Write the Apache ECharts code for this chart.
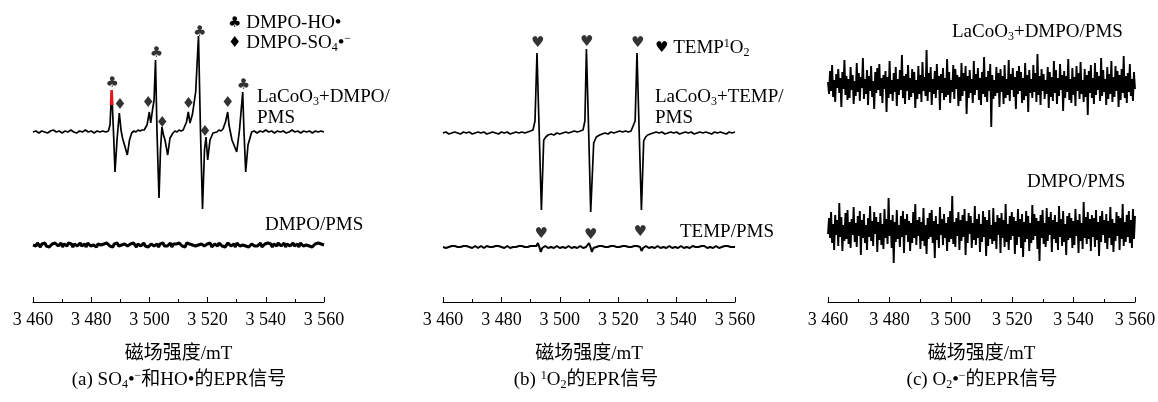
<!DOCTYPE html>
<html>
<head>
<meta charset="utf-8">
<script src="https://cdn.jsdelivr.net/npm/echarts@6/dist/echarts.min.js"></script>
<style>html,body{margin:0;padding:0;background:#fff}#chart{width:1158px;height:402px}</style>
</head>
<body>
<div id="chart"></div>
<script>
// 磁场扫描范围 (mT)
var FIELD_MIN = 3460, FIELD_MAX = 3560;
var fieldTicks = [3460, 3480, 3500, 3520, 3540, 3560];

// (a) LaCoO3+DMPO/PMS : [磁场, 强度]
var aTop = [[3460,0],[3461,1],[3462,-1],[3463,1],[3464,0],[3465,-1],[3466,1],[3467,2],[3468,0],[3469,1],[3470,-1],[3471,1],[3472,0],[3473,2],[3474,0],[3475,-1],[3476,1],[3477,0],[3478,2],[3479,0],[3480,1],[3481,-1],[3482,1],[3483,0],[3484,1],[3485,0],
  [3485.9,1],[3486.46,7],[3487.04,42],[3487.66,0],[3488.18,-40],[3488.87,-8],[3489.66,19],[3490.24,2],[3490.76,-6],[3491.27,-8],[3492.41,-23],[3493.16,-8],[3493.92,-1],
  [3494.7,1],[3495.4,0],[3496.1,2],[3496.8,1],[3497.5,2],[3498.2,2],[3498.7,3],
  [3499.18,7],[3499.97,20],[3500.45,9],[3501.07,22],[3501.6,32],[3502.1,72],[3502.61,0],[3503.3,-66],[3503.81,-18],[3504.3,5],[3504.85,-3],[3505.36,-8],[3506.29,-23],[3507.08,-6],[3508.11,-1],
  [3508.8,1],[3509.5,0],[3510.2,2],[3510.9,1],[3511.6,2],[3512.23,3],
  [3512.75,10],[3513.37,20],[3513.95,9],[3514.81,18],[3515.9,40],[3516.87,96],[3517.56,0],[3518.25,-77],[3518.93,-18],[3519.45,-5],[3520.03,-28],[3520.82,-8],[3521.86,-1],
  [3522.5,1],[3523.2,0],[3523.9,2],[3524.6,1],[3525.29,3],
  [3526.15,10],[3526.91,20],[3527.35,7],[3528.38,-8],[3530.0,-20],[3530.96,2],[3532.06,40],[3532.51,0],[3533.09,-40],[3533.88,-13],[3535.15,0],
  [3536,1],[3537,-1],[3538,1],[3539,0],[3540,2],[3541,0],[3542,1],[3543,-1],[3544,1],[3545,0],[3546,1],[3547,-1],[3548,0],[3549,2],[3550,0],[3551,1],[3552,-1],[3553,1],[3554,0],[3555,1],[3556,-1],[3557,1],[3558,0],[3559,1],[3560,0]];
var aHighlight = [[3486.79,27],[3487.04,42],[3487.26,27]];
// (a) DMPO/PMS，等间隔采样
var aBottom = [0,1,-1,2,0,-2,1,0,2,-1,1,-2,0,1,-1,2,1,-1,0,2,-2,1,0,-1,2,0,1,-2,1,0,-1,1,2,-1,0,1,-2,2,0,-1,1,0,2,-2,1,-1,0,2,1,-1,2,0,-1,1,-2,1,0,2,-1,1,0,-2,1,2,-1,0,1,-1,2,0,-2,1,1,-1,0,2,-1,1,-2,0,1,2,-1,0,1,-2,1,0,2,-1,1,-1,0,2,-2,1,0,1,-1,2,0,-1,1,-2,2,0,1,-1,0,2,-1,1,0,-2,1,2,-1,0,1,-1,2,-2,0,1,1,-1,2,0,-1,1,-2,0,2,1,-1,0,1,-2,2,0,-1,1,0,2,-1,1,-2,0,1,2,-1,0,-1,1,2,-2,0,1,-1,2,0,1,-2,1,0,-1,2,1,-1,0,2,-2,1,0,-1,1,2,-1,0,1,-2,2,0,-1,1,0,2,-1,1,-2,0,1,-1,2,0,1,-1,0];
var aClubs = [[3487.2,49],[3502.4,79],[3517.3,100],[3532.3,47]];
var aDiamonds = [[3489.9,27],[3499.6,29],[3504.4,9],[3513.4,28],[3519.1,0],[3526.9,29]];

// (b) LaCoO3+TEMP/PMS
var bTop = [[3460,0],[3461,1],[3462,-1],[3463,0],[3464,1],[3465,0],[3466,-1],[3467,1],[3468,0],[3469,1],[3470,-1],[3471,0],[3472,1],[3473,0],[3474,1],[3475,-1],[3476,0],[3477,1],[3478,0],[3479,-1],[3480,1],[3481,0],[3482,1],[3483,-1],[3484,0],[3485,1],[3486,0],[3487,1],[3488,0],[3489,1],[3490,2],
  [3490.82,3],[3491.5,12],[3492.19,80],[3492.95,0],[3493.7,-77],[3494.49,-7],[3495.2,-4],[3495.96,-2],
  [3497,-1],[3498,-2],[3499,0],[3500,-1],[3501,0],[3502,1],[3503,0],[3504,1],[3505,2],[3506,1],[3507,2],[3507.95,3],
  [3508.6,12],[3509.11,84],[3509.9,0],[3510.58,-79],[3511.61,-10],[3512.5,-4],[3513.66,-2],
  [3514.5,-1],[3515.5,0],[3516.5,-1],[3517.5,1],[3518.5,0],[3519.5,1],[3520.5,2],[3521.5,1],[3522.5,2],[3523.5,1],[3524.4,2],[3525.07,3],
  [3525.8,12],[3526.44,80],[3527.19,0],[3527.95,-77],[3528.73,-8],[3529.4,-4],[3530.1,-2],
  [3531,-1],[3532,0],[3533,1],[3534,0],[3535,1],[3536,-1],[3537,0],[3538,1],[3539,0],[3540,1],[3541,-1],[3542,0],[3543,1],[3544,0],[3545,1],[3546,-1],[3547,0],[3548,1],[3549,0],[3550,1],[3551,0],[3552,-1],[3553,1],[3554,0],[3555,1],[3556,0],[3557,-1],[3558,1],[3559,0],[3560,1]];
// (b) TEMP/PMS，等间隔采样
var bBottom = [0,1,-1,1,0,-1,1,0,1,-1,
  0,1,0,-1,1,0,1,-1,0,1,
  -1,0,1,0,-1,1,1,0,-1,0,
  1,-1,0,1,0,-1,1,0,1,-1,
  0,1,-1,0,1,0,-1,1,0,1,
  0,-1,1,0,1,-1,0,1,0,-1,
  1,0,1,-1,1,4,0,-5,-1,0,
  1,0,-1,1,0,1,-1,0,1,0,
  -1,1,0,1,-1,0,1,0,-1,1,
  0,1,-1,0,1,0,-1,1,0,1,
  4,0,-5,-1,1,0,-1,1,0,1,
  -1,0,1,0,-1,1,0,1,-1,0,
  1,0,-1,1,0,1,-1,0,1,0,
  -1,1,0,1,3,0,-4,-1,0,1,
  0,-1,1,0,1,-1,0,1,0,-1,
  1,0,1,-1,0,1,0,-1,1,0,
  1,-1,0,1,0,-1,1,0,1,-1,
  0,1,-1,0,1,0,-1,1,0,1,
  0,-1,1,0,1,-1,0,1,0,-1,
  1,0,-1,1,0,1,-1,0,1,0,
  0];
var bHeartsTop = [[3492.4,90],[3509.2,91],[3526.7,90]];
var bHeartsBottom = [[3493.6,13],[3510.6,12],[3527.5,15]];

// (c) 等间隔采样
var cTop = [3,-9,14,-6,20,-12,5,-17,11,-3,
  16,-8,7,-22,13,-4,25,-10,9,-15,
  6,-13,18,-5,10,-19,4,-11,22,-7,
  12,-16,8,-3,27,-14,6,-9,15,-20,
  9,-6,19,-12,4,-24,13,-8,17,-5,
  21,-11,7,-18,10,-4,14,-27,8,-13,
  24,-9,5,-16,12,-7,18,-21,6,-10,
  15,-5,30,-13,9,-19,11,-6,20,-15,
  7,-12,16,-8,13,-23,5,-14,19,-9,
  10,-17,23,-6,8,-11,35,-16,12,-7,
  18,-20,6,-9,14,-13,21,-5,9,-25,
  11,-8,17,-15,7,-12,26,-10,13,-18,
  5,-7,20,-14,16,-4,10,-21,8,-16,
  22,-11,12,-6,19,-29,9,-13,15,-8,
  6,-18,24,-10,11,-5,17,-15,7,-20,
  13,-9,28,-12,8,-17,14,-6,21,-42,
  10,-14,5,-11,18,-8,12,-22,16,-7,
  9,-19,20,-13,6,-10,25,-16,11,-5,
  17,-12,8,-24,14,-9,19,-6,13,-18,
  7,-15,22,-11,10,-27,15,-8,6,-13,
  20,-7,12,-17,31,-10,9,-20,16,-6,
  11,-14,5,-9,18,-23,13,-12,8,-16,
  24,-8,15,-19,7,-11,21,-5,10,-26,
  14,-13,9,-7,26,-15,6,-18,17,-10,
  8,-21,19,-6,12,-14,23,-9,5,-17,
  16,-12,10,-30,14,-8,20,-13,7,-19,
  22,-10,13,-5,9,-16,27,-11,15,-7,
  6,-20,18,-14,11,-9,24,-17,8,-12,
  19,-6,14,-22,10,-15,16,-8,29,-13,
  9,-18,12,-7,21,-11,6,-16,13,-4];
var cBottom = [-4,12,-8,18,-13,6,-20,15,-5,10,
  -16,27,-7,13,-21,5,-11,17,-9,20,
  -14,8,-18,11,-5,23,-12,7,-17,14,
  -6,19,-25,10,-8,16,-13,5,-20,12,
  -7,24,-11,9,-16,18,-4,13,-22,8,
  -10,17,-15,6,-19,21,-8,11,-14,32,
  -6,10,-18,15,-33,8,-12,20,-9,5,
  -17,14,-7,19,-23,11,-5,16,-12,9,
  -21,7,-13,18,-8,26,-15,10,-6,13,
  -19,8,-11,22,-16,5,-24,12,-9,17,
  -7,20,-13,9,-28,14,-10,6,-18,23,
  -5,11,-15,16,-8,7,-21,13,-12,19,
  -9,34,-14,8,-17,12,-6,18,-20,10,
  -11,15,-7,21,-25,9,-13,17,-4,14,
  -18,7,-10,24,-15,11,-8,16,-22,6,
  -12,19,-7,13,-26,10,-16,20,-9,5,
  -14,22,-11,8,-19,15,-5,12,-23,17,
  -8,10,-17,26,-12,6,-20,14,-10,18,
  -6,13,-24,9,-15,21,-7,11,-18,16,
  -27,8,-12,19,-9,14,-21,7,-13,25,
  -10,16,-6,12,-19,9,-31,15,-8,20,
  -14,7,-17,22,-11,13,-5,18,-22,10,
  -9,15,-13,8,-20,24,-7,11,-16,19,
  -12,6,-25,14,-10,17,-8,12,-18,9,
  -15,21,-6,10,-23,16,-11,7,-19,28,
  -8,13,-14,18,-9,11,-21,15,-7,12,
  -17,20,-10,8,-26,14,-12,19,-5,10,
  -13,16,-19,9,-8,23,-15,11,-22,7,
  -11,18,-6,14,-20,12,-9,26,-16,8,
  -12,15,-7,19,-13,10,-18,21,-9,14];

var SERIF = "'Liberation Serif', 'Noto Sans CJK SC'";
var chart = echarts.init(document.getElementById('chart'));

function shift(pairs, off) {
  return pairs.map(function (p) { return [p[0], p[1] + off]; });
}
function onGrid(vals, off) {
  var n = vals.length;
  return vals.map(function (v, i) {
    return [FIELD_MIN + i * (FIELD_MAX - FIELD_MIN) / (n - 1), v + off];
  });
}
function line(idx, data, width, color) {
  return {
    type: 'line', xAxisIndex: idx, yAxisIndex: idx, data: data,
    showSymbol: false, symbol: 'none', silent: true, animation: false,
    lineStyle: { color: color || '#000', width: width }, z: color ? 3 : 2
  };
}
function marks(idx, data, ch) {
  return {
    type: 'scatter', xAxisIndex: idx, yAxisIndex: idx, data: data,
    symbolSize: 1, silent: true, animation: false, z: 5,
    itemStyle: { color: 'rgba(0,0,0,0)' },
    label: { show: true, position: 'inside', formatter: ch, color: '#000',
      fontFamily: 'DejaVu Sans', fontSize: 15 }
  };
}
function xAx(idx) {
  return {
    type: 'value', gridIndex: idx, min: FIELD_MIN, max: FIELD_MAX, interval: 20,
    name: '磁场强度/mT', nameLocation: 'middle', nameGap: 43,
    nameTextStyle: { color: '#000', fontFamily: SERIF, fontSize: 19 },
    axisLine: { lineStyle: { color: '#000', width: 1 } },
    axisTick: { inside: true, length: 5, lineStyle: { color: '#000' } },
    minorTick: { show: true, splitNumber: 2, length: 3, lineStyle: { color: '#000' } },
    splitLine: { show: false },
    axisLabel: { color: '#000', fontFamily: SERIF, fontSize: 18, margin: 9,
      formatter: function (v) {
        return fieldTicks.indexOf(v) < 0 ? '' : String(v).replace(/(\d)(\d{3})$/, '$1 $2');
      } }
  };
}
function yAx(idx) {
  return { type: 'value', gridIndex: idx, min: 0, max: 292, show: false };
}

var rich = {
  s: { fontSize: 12, lineHeight: 4, verticalAlign: 'bottom', fontFamily: SERIF },
  u: { fontSize: 12, lineHeight: 9, verticalAlign: 'top', fontFamily: SERIF },
  m: { fontSize: 15, fontFamily: 'DejaVu Sans' }
};
function txt(x, y, text, align) {
  return {
    type: 'text', x: x, y: y, silent: true,
    style: { text: text, fill: '#000', fontFamily: SERIF, fontSize: 19, lineHeight: 21,
      textAlign: align || 'left', textVerticalAlign: 'middle', rich: rich }
  };
}

chart.setOption({
  backgroundColor: '#fff',
  animation: false,
  grid: [
    { left: 33, top: 10, width: 291, height: 292, outerBoundsMode: 'none' },
    { left: 443, top: 10, width: 292, height: 292, outerBoundsMode: 'none' },
    { left: 828, top: 10, width: 307, height: 292, outerBoundsMode: 'none' }
  ],
  xAxis: [xAx(0), xAx(1), xAx(2)],
  yAxis: [yAx(0), yAx(1), yAx(2)],
  series: [
    line(0, shift(aTop, 170), 1.7),
    line(0, shift(aHighlight, 170), 2.5, '#e8141b'),
    line(0, onGrid(aBottom, 57), 3),
    marks(0, shift(aClubs, 170), '♣'),
    marks(0, shift(aDiamonds, 170), '♦'),
    line(1, shift(bTop, 169), 1.7),
    line(1, onGrid(bBottom, 55), 2),
    marks(1, shift(bHeartsTop, 169), '♥'),
    marks(1, shift(bHeartsBottom, 55), '♥'),
    line(2, onGrid(cTop, 217), 1.9),
    line(2, onGrid(cBottom, 72), 1.9)
  ],
  graphic: [
    txt(228, 23, '{m|♣} DMPO-HO•'),
    txt(228, 43, '{m|♦} DMPO-SO{s|4}•{u|−}'),
    txt(257, 107.5, 'LaCoO{s|3}+DMPO/\nPMS'),
    txt(265, 225, 'DMPO/PMS'),
    txt(655, 48, '{m|♥} TEMP{u|1}O{s|2}'),
    txt(655, 107.5, 'LaCoO{s|3}+TEMP/\nPMS'),
    txt(680, 232, 'TEMP/PMS'),
    txt(952, 32, 'LaCoO{s|3}+DMPO/PMS'),
    txt(1027, 182, 'DMPO/PMS'),
    txt(179, 380, '(a) SO{s|4}•{u|−}和HO•的EPR信号', 'center'),
    txt(586, 380, '(b) {u|1}O{s|2}的EPR信号', 'center'),
    txt(982, 380, '(c) O{s|2}•{u|−}的EPR信号', 'center')
  ]
});
</script>
</body>
</html>
